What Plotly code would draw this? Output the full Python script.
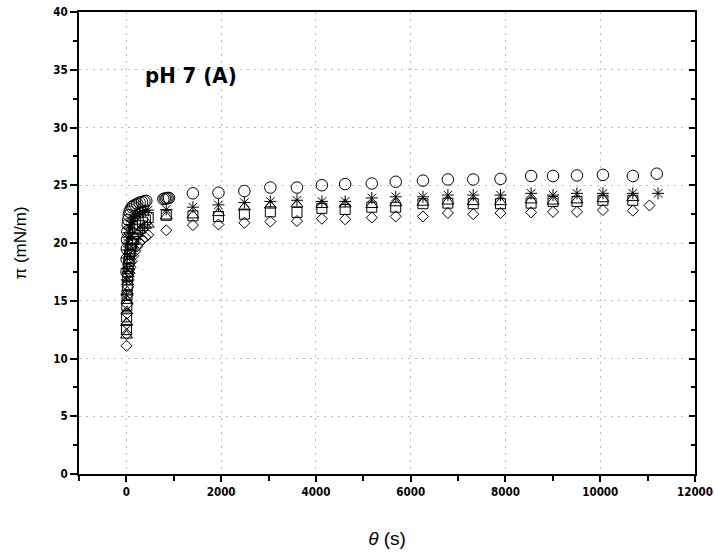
import plotly.graph_objects as go

# ---- data (time in s, surface pressure in mN/m) ----
circle_t = [2, 5, 9, 14, 20, 28, 38, 50, 66, 86, 112, 145, 185, 230, 280, 330, 380, 420,
            780, 810, 842, 870, 900,
            1404, 1943, 2490, 3038, 3600, 4126, 4617, 5179, 5684, 6259, 6785, 7320, 7895,
            8541, 9004, 9509, 10057, 10688, 11193]
circle_pi = [17.5, 18.6, 19.5, 20.3, 21.0, 21.6, 22.0, 22.4, 22.7, 22.9, 23.1, 23.2, 23.3, 23.4, 23.5, 23.55, 23.6, 23.65,
             23.8, 23.85, 23.85, 23.9, 23.9,
             24.3, 24.35, 24.5, 24.8, 24.8, 25.0, 25.1, 25.15, 25.3, 25.4, 25.5, 25.5, 25.55,
             25.8, 25.8, 25.85, 25.9, 25.8, 26.0]

star_t = [2, 5, 9, 14, 20, 28, 38, 50, 66, 86, 112, 145, 185, 230, 280, 340, 400, 460, 842,
          1404, 1943, 2490, 3038, 3600, 4126, 4617, 5179, 5684, 6259, 6785, 7320, 7895,
          8541, 9004, 9509, 10057, 10688, 11220]
star_pi = [15.5, 16.8, 17.8, 18.7, 19.4, 20.0, 20.5, 20.9, 21.3, 21.6, 21.9, 22.1, 22.3, 22.5, 22.6, 22.7, 22.8, 22.85, 22.9,
           23.1, 23.3, 23.5, 23.6, 23.7, 23.6, 23.6, 23.9, 24.0, 24.0, 24.15, 24.15, 24.15,
           24.3, 24.15, 24.3, 24.3, 24.3, 24.3]

tri_t = [2, 5, 9, 14, 20, 28, 38, 50, 66, 86, 112, 145, 185, 230, 280, 340, 400, 460, 842,
         1404, 1943, 2490, 3038, 3600, 4126, 4617, 5179, 5684, 6259, 6785, 7320, 7895,
         8541, 9004, 9509, 10057, 10688]
tri_pi = [12.0, 13.1, 14.1, 15.0, 15.8, 16.6, 17.3, 17.9, 18.5, 19.1, 19.6, 20.1, 20.5, 20.8, 21.1, 21.3, 21.5, 21.6, 22.3,
          22.4, 22.6, 23.1, 23.25, 23.35, 23.3, 23.35, 23.3, 23.45, 23.5, 23.6, 23.55, 23.55,
          23.7, 23.6, 23.7, 23.8, 23.9]

sq_t = [2, 5, 9, 14, 20, 28, 38, 50, 66, 86, 112, 145, 185, 230, 280, 340, 400, 460, 842,
        1404, 1943, 2490, 3038, 3600, 4126, 4617, 5179, 5684, 6259, 6785, 7320, 7895,
        8541, 9004, 9509, 10057, 10688]
sq_pi = [12.5, 13.6, 14.6, 15.5, 16.3, 17.1, 17.8, 18.4, 19.0, 19.5, 20.0, 20.4, 20.8, 21.2, 21.5, 21.8, 22.0, 22.2, 22.4,
         22.35, 22.3, 22.5, 22.7, 22.65, 23.0, 22.9, 23.1, 23.1, 23.4, 23.45, 23.4, 23.4,
         23.45, 23.6, 23.6, 23.7, 23.7]

dia_t = [2, 5, 9, 14, 20, 28, 38, 50, 66, 86, 112, 145, 185, 230, 280, 340, 400, 460, 842,
         1404, 1943, 2490, 3038, 3600, 4126, 4617, 5179, 5684, 6259, 6785, 7320, 7895,
         8541, 9004, 9509, 10057, 10688, 11040]
dia_pi = [11.1, 12.1, 13.0, 13.9, 14.7, 15.5, 16.2, 16.8, 17.4, 17.9, 18.4, 18.9, 19.3, 19.7, 20.0, 20.3, 20.5, 20.7, 21.1,
          21.55, 21.6, 21.75, 21.85, 21.9, 22.1, 22.05, 22.2, 22.3, 22.3, 22.6, 22.5, 22.6,
          22.65, 22.7, 22.7, 22.85, 22.8, 23.25]

x_ticks = [0, 2000, 4000, 6000, 8000, 10000, 12000]
y_ticks = [0, 5, 10, 15, 20, 25, 30, 35, 40]

series = [
    (dia_t, dia_pi, "diamond-open", 8.5),
    (sq_t, sq_pi, "square-open", 10),
    (tri_t, tri_pi, "triangle-up-open", 10.5),
    (star_t, star_pi, "asterisk-open", 10),
    (circle_t, circle_pi, "circle-open", 11.5),
]

fig = go.Figure()
for t, p, sym, sz in series:
    fig.add_trace(go.Scatter(
        x=t, y=p, mode="markers", showlegend=False,
        marker=dict(symbol=sym, size=sz, color="black", line=dict(color="black", width=1)),
    ))

# invisible trace for the right-hand (inward ticks) axis
fig.add_trace(go.Scatter(x=[None], y=[None], yaxis="y2", showlegend=False, hoverinfo="skip"))

tick_font = dict(family="DejaVu Sans Condensed, Liberation Sans, Arial", size=11.5, color="black", weight=700)

fig.update_layout(
    width=715, height=556,
    margin=dict(l=79, r=20, t=12, b=82),
    paper_bgcolor="white", plot_bgcolor="white",
    xaxis=dict(
        range=[-1000, 12000], tickvals=x_ticks, ticktext=[str(v) for v in x_ticks],
        tickfont=tick_font, ticks="outside", ticklen=6, tickwidth=1.5, tickcolor="black",
        minor=dict(dtick=1000, tick0=-1000, ticks="outside", ticklen=5, tickwidth=1.5, tickcolor="black", showgrid=False),
        showline=True, linecolor="black", linewidth=2, mirror=True,
        showgrid=True, gridcolor="#bcbcbc", griddash="2px,5px", gridwidth=1.3,
        zeroline=False, automargin=False,
        title=dict(text="<i>θ</i> (s)", font=dict(family="Liberation Sans, Arial", size=19, color="black"), standoff=34),
    ),
    yaxis=dict(
        range=[0, 40], tickvals=y_ticks, ticktext=[str(v) for v in y_ticks],
        tickfont=tick_font, ticks="outside", ticklen=7, tickwidth=1.5, tickcolor="black",
        minor=dict(dtick=2.5, tick0=0, ticks="outside", ticklen=4, tickwidth=1.5, tickcolor="black", showgrid=False),
        showline=True, linecolor="black", linewidth=2, mirror=True,
        showgrid=True, gridcolor="#bcbcbc", griddash="2px,5px", gridwidth=1.3,
        zeroline=False, automargin=False,
        title=dict(text="π (mN/m)", font=dict(family="Liberation Sans, Arial", size=17, color="black"), standoff=22),
    ),
    yaxis2=dict(
        overlaying="y", side="right", range=[0, 40], tickvals=y_ticks, showticklabels=False,
        ticks="inside", ticklen=6, tickwidth=1.5, tickcolor="black",
        minor=dict(dtick=2.5, tick0=0, ticks="inside", ticklen=4, tickwidth=1.5, tickcolor="black", showgrid=False),
        showgrid=False, showline=False, zeroline=False, automargin=False,
    ),
    annotations=[dict(
        x=1370, y=34.5, xref="x", yref="y", text="pH 7 (A)", showarrow=False,
        font=dict(family="DejaVu Sans Condensed, Liberation Sans, Arial", size=22, color="black", weight=700),
    )],
)

fig.write_html("out.html")
